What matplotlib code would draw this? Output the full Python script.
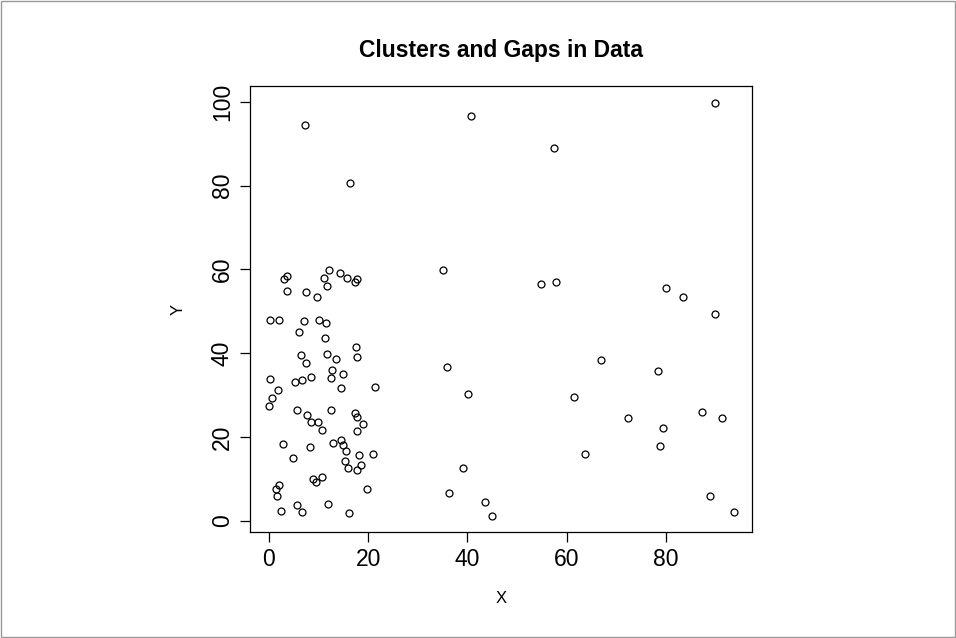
import numpy as np
import matplotlib
matplotlib.use('Agg')
import matplotlib.pyplot as plt
from matplotlib.patches import Rectangle

plt.rcParams['font.family'] = ['Liberation Sans', 'DejaVu Sans']

# points (sparse part first, then the dense cluster)
x = [40.8, 57.5, 89.8, 7.4, 16.4, 35.1, 54.9, 57.9, 79.9, 83.3,
     89.8, 66.8, 78.3, 35.9, 40.2, 61.4, 72.3, 87.2, 91.2, 79.3,
     78.7, 63.6, 39.2, 36.3, 43.6, 45.0, 88.8, 93.6,
     3.7, 3.1, 12.1, 11.1, 14.3, 15.8, 17.7, 17.3, 11.8, 3.6,
     7.6, 9.7, 0.2, 2.0, 7.2, 10.2, 11.5, 6.1, 11.3, 17.6,
     6.5, 7.5, 11.8, 13.5, 17.8, 0.27, 1.8, 0.6, 0.07, 5.3,
     6.6, 8.5, 12.7, 12.6, 15.0, 14.6, 21.3, 5.6, 7.8, 8.5,
     10.0, 10.8, 12.5, 17.3, 17.8, 18.9, 17.8,
     2.8, 8.3, 13.0, 14.6, 15.0, 15.5, 18.2, 20.9, 15.3, 18.6,
     15.9, 17.7, 4.9, 8.9, 9.5, 10.7, 2.0, 1.4, 1.7, 19.7,
     5.7, 6.6, 11.9, 2.5, 16.1]
y = [96.7, 89.0, 99.8, 94.5, 80.7, 59.9, 56.6, 57.0, 55.6, 53.5,
     49.4, 38.4, 35.8, 36.8, 30.3, 29.6, 24.6, 26.0, 24.6, 22.2,
     17.9, 16.0, 12.6, 6.7, 4.5, 1.2, 6.0, 2.1,
     58.5, 57.7, 59.9, 57.9, 59.1, 57.9, 57.8, 56.9, 56.1, 54.9,
     54.7, 53.4, 48.0, 47.9, 47.7, 48.0, 47.3, 45.0, 43.6, 41.5,
     39.6, 37.7, 39.8, 38.5, 39.0, 33.9, 31.2, 29.4, 27.3, 33.1,
     33.6, 34.4, 36.0, 34.1, 35.0, 31.8, 31.9, 26.4, 25.3, 23.5,
     23.5, 21.6, 26.5, 25.6, 24.7, 23.2, 21.5,
     18.3, 17.7, 18.5, 19.2, 18.2, 16.6, 15.7, 15.9, 14.3, 13.4,
     12.5, 12.0, 14.9, 10.0, 9.2, 10.5, 8.5, 7.6, 5.9, 7.6,
     3.7, 2.0, 3.9, 2.4, 1.9]

xticks = [0, 20, 40, 60, 80]
yticks = [0, 20, 40, 60, 80, 100]

fig = plt.figure(figsize=(9.56, 6.38), dpi=100)
ax = fig.add_axes([0.262, 0.1657, 0.525, 0.6995])
fig.patches.append(Rectangle((0.001, 0.001), 0.998, 0.998, transform=fig.transFigure,
                             fill=False, edgecolor='#999999', linewidth=1))

ax.plot(x, y, 'o', markerfacecolor='none', markeredgecolor='black',
        markersize=5, markeredgewidth=0.9)

# R style 4% padding
xr = max(x) - min(x)
yr = max(y) - min(y)
ax.set_xlim(min(x) - 0.04 * xr, max(x) + 0.04 * xr)
ax.set_ylim(min(y) - 0.04 * yr, max(y) + 0.04 * yr)

ax.set_xticks(xticks)
ax.set_yticks(yticks)
ax.tick_params(direction='out', length=7, width=0.9, labelsize=16.5, pad=4)
ax.tick_params(axis='y', labelrotation=90, pad=5)
for lab in ax.get_yticklabels():
    lab.set_va('center')
for s in ax.spines.values():
    s.set_linewidth(0.9)

ax.set_title('Clusters and Gaps in Data', fontsize=16.5, fontweight='bold', pad=21)
ax.set_xlabel('X', fontsize=12, labelpad=15)
ax.set_ylabel('Y', fontsize=12, labelpad=18)

fig.savefig('out.png', dpi=100)
